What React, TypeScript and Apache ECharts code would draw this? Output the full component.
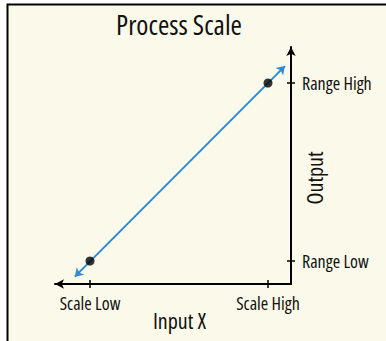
import React, { useEffect, useRef } from "react";
import * as echarts from "echarts";

// Logical scale: Scale Low / Range Low = 0, Scale High / Range High = 100
const xTickValues = [0, 100];
const xTickLabels = ["Scale Low", "Scale High"];
const yTickValues = [0, 100];
const yTickLabels = ["Range Low", "Range High"];
const calibrationPoints = [
  [0, 0],
  [100, 100],
];
const lineStart = [-8.5, -8.8];
const lineEnd = [109.5, 109.5];
const xRange = [-19.66, 112.92];
const yRange = [-12.92, 120.22];

const FONT = "'Open Sans'; font-stretch: 75%";
const BLUE = "#2b8bd6";
const CREAM = "#fbf9e9";
const INK = "#111111";

export default function App() {
  const ref = useRef<HTMLDivElement>(null);
  useEffect(() => {
    const chart = echarts.init(ref.current!, null, { renderer: "svg" });
    const gridBox = {
      left: 55,
      right: 95,
      top: 47,
      bottom: 57,
      containLabel: false,
      outerBoundsMode: "none",
    };
    const xLabelMap: Record<string, string> = {};
    xTickValues.forEach((v, i) => (xLabelMap[String(v)] = xTickLabels[i]));
    const yLabelMap: Record<string, string> = {};
    yTickValues.forEach((v, i) => (yLabelMap[String(v)] = yTickLabels[i]));

    const tickStyle = { color: "#000", width: 1.5 };

    chart.setOption({
      animation: false,
      backgroundColor: "#ffffff",
      graphic: [
        {
          type: "rect",
          z: -10,
          shape: { x: 7.5, y: 4.5, width: 400, height: 400 },
          style: { fill: CREAM, stroke: "#000", lineWidth: 2 },
          silent: true,
        },
        {
          type: "text",
          x: 179,
          y: 24,
          style: {
            text: "Process Scale",
            fontFamily: FONT,
            fontSize: 27.5,
            fill: INK,
            textAlign: "center",
            textVerticalAlign: "middle",
          },
        },
      ],
      grid: [{ ...gridBox }, { ...gridBox }],
      xAxis: [
        {
          type: "value",
          gridIndex: 0,
          position: "bottom",
          min: xRange[0],
          max: xRange[1],
          splitLine: { show: false },
          axisLine: {
            show: true,
            onZero: false,
            symbol: ["arrow", "none"],
            symbolSize: [7, 9],
            lineStyle: { color: "#000", width: 2 },
          },
          axisTick: { show: true, customValues: xTickValues, length: 4, lineStyle: tickStyle },
          axisLabel: {
            show: true,
            customValues: xTickValues,
            formatter: (v: number) => xLabelMap[String(v)] ?? "",
            fontFamily: FONT,
            fontSize: 18,
            color: INK,
            margin: 14,
          },
          name: "Input X",
          nameLocation: "middle",
          nameGap: 31,
          nameMoveOverlap: false,
          nameTextStyle: { fontFamily: FONT, fontSize: 22, color: INK, padding: [0, 0, 0, 13] },
        },
        {
          type: "value",
          gridIndex: 1,
          position: "bottom",
          min: xRange[0],
          max: xRange[1],
          splitLine: { show: false },
          axisLine: { show: false, onZero: false },
          axisTick: { show: true, inside: true, customValues: xTickValues, length: 4, lineStyle: tickStyle },
          axisLabel: { show: false },
        },
      ],
      yAxis: [
        {
          type: "value",
          gridIndex: 0,
          position: "right",
          min: yRange[0],
          max: yRange[1],
          splitLine: { show: false },
          axisLine: {
            show: true,
            onZero: false,
            symbol: ["none", "arrow"],
            symbolSize: [7, 9],
            lineStyle: { color: "#000", width: 2 },
          },
          axisTick: { show: true, customValues: yTickValues, length: 4, lineStyle: tickStyle },
          axisLabel: {
            show: true,
            customValues: yTickValues,
            formatter: (v: number) => yLabelMap[String(v)] ?? "",
            fontFamily: FONT,
            fontSize: 18,
            color: INK,
            margin: 11,
          },
          name: "Output",
          nameLocation: "middle",
          nameRotate: 90,
          nameGap: 18,
          nameMoveOverlap: false,
          nameTextStyle: { fontFamily: FONT, fontSize: 22, color: INK, padding: [0, 25, 0, 0] },
        },
        {
          type: "value",
          gridIndex: 1,
          position: "right",
          min: yRange[0],
          max: yRange[1],
          splitLine: { show: false },
          axisLine: { show: false, onZero: false },
          axisTick: { show: true, inside: true, customValues: yTickValues, length: 4, lineStyle: tickStyle },
          axisLabel: { show: false },
        },
      ],
      series: [
        {
          type: "lines",
          coordinateSystem: "cartesian2d",
          xAxisIndex: 0,
          yAxisIndex: 0,
          symbol: ["arrow", "arrow"],
          symbolSize: 8,
          lineStyle: { color: BLUE, width: 2, opacity: 1 },
          data: [{ coords: [lineStart, lineEnd] }],
          z: 3,
        },
        {
          type: "scatter",
          xAxisIndex: 0,
          yAxisIndex: 0,
          symbolSize: 9,
          itemStyle: { color: "#000" },
          data: calibrationPoints,
          z: 4,
        },
      ],
    });
    return () => chart.dispose();
  }, []);
  return (
    <div
      ref={ref}
      style={{ position: "absolute", left: 0, top: 0, width: 386, height: 341 }}
    />
  );
}
